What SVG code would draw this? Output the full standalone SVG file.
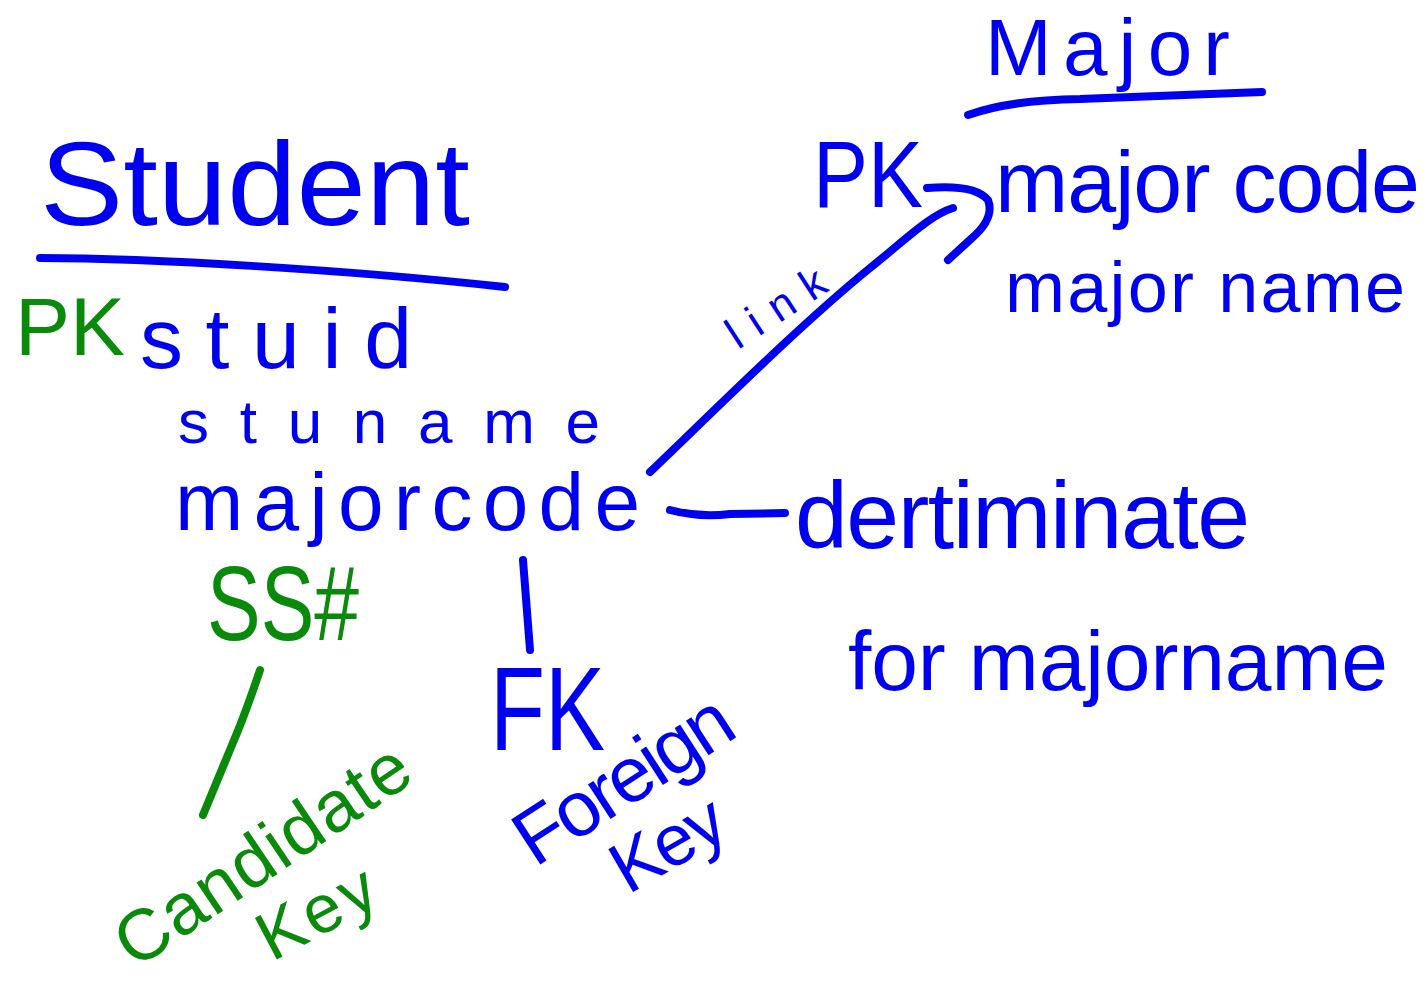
<svg xmlns="http://www.w3.org/2000/svg" width="1426" height="985" viewBox="0 0 1426 985">
<style>
text{font-family:"Liberation Sans","Open Sans",sans-serif;}
.b{fill:#0000F0;}
.g{fill:#0A8A0A;}
.lb{fill:none;stroke:#0000F0;stroke-width:8;stroke-linecap:round;stroke-linejoin:round;}
.lg{fill:none;stroke:#0A8A0A;stroke-width:8;stroke-linecap:round;stroke-linejoin:round;}
</style>
<rect width="1426" height="985" fill="#FFFFFF"/>
<g id="student">
<text class="b" x="40" y="225" font-size="118" textLength="430" lengthAdjust="spacingAndGlyphs">Student</text>
<path class="lb" d="M40,258 C150,258 350,270 505,287"/>
</g>
<g id="pk-green"><text class="g" x="15" y="355" font-size="82" textLength="110" lengthAdjust="spacingAndGlyphs">PK</text></g>
<g id="stuid"><text class="b" x="140" y="368" font-size="86" textLength="272" lengthAdjust="spacing">stuid</text></g>
<g id="stuname"><text class="b" x="178" y="443" font-size="62" textLength="422" lengthAdjust="spacing">stuname</text></g>
<g id="majorcode"><text class="b" x="175" y="530" font-size="82" textLength="465" lengthAdjust="spacing">majorcode</text></g>
<g id="ssn"><text class="g" x="207" y="640" font-size="105" textLength="152" lengthAdjust="spacingAndGlyphs">SS#</text></g>
<g id="candidate-key">
<text class="g" x="135" y="970" font-size="72" textLength="340" lengthAdjust="spacing" transform="rotate(-34 135 970)">Candidate</text>
<text class="g" x="272" y="962" font-size="68" textLength="125" lengthAdjust="spacing" transform="rotate(-28 272 962)">Key</text>
</g>
<g id="fk"><text class="b" x="490" y="750" font-size="118" textLength="115" lengthAdjust="spacingAndGlyphs">FK</text></g>
<g id="foreign-key">
<text class="b" x="535" y="868" font-size="78" textLength="245" lengthAdjust="spacing" transform="rotate(-33 535 868)">Foreign</text>
<text class="b" x="628" y="895" font-size="72" textLength="120" lengthAdjust="spacing" transform="rotate(-30 628 895)">Key</text>
</g>
<g id="major">
<text class="b" x="985" y="75" font-size="80" textLength="245" lengthAdjust="spacing">Major</text>
<path class="lb" d="M968,115 Q1010,100 1080,99 L1262,92"/>
</g>
<g id="pk-blue"><text class="b" x="813" y="207" font-size="95" textLength="110" lengthAdjust="spacingAndGlyphs">PK</text></g>
<g id="major-code"><text class="b" x="995" y="212" font-size="88" textLength="425" lengthAdjust="spacing">major code</text></g>
<g id="major-name"><text class="b" x="1005" y="312" font-size="72" textLength="400" lengthAdjust="spacing">major name</text></g>
<g id="determinate">
<text class="b" x="795" y="548" font-size="95" textLength="455" lengthAdjust="spacing">dertiminate</text>
<text class="b" x="848" y="690" font-size="84" textLength="540" lengthAdjust="spacing">for majorname</text>
</g>
<g id="connectors">
<path class="lb" d="M650,472 C720,405 800,325 870,268 C905,240 930,215 953,208"/>
<path class="lb" d="M927,188 Q975,184 988,200 Q995,218 972,238 L948,260"/>
<text class="b" x="738" y="350" font-size="44" textLength="110" lengthAdjust="spacing" transform="rotate(-33 738 350)">link</text>
<path class="lb" d="M670,510 Q700,518 730,514 L785,513"/>
<path class="lb" d="M523,560 L530,650"/>
<path class="lg" d="M260,670 Q245,715 232,745 L203,815"/>
</g>
</svg>
